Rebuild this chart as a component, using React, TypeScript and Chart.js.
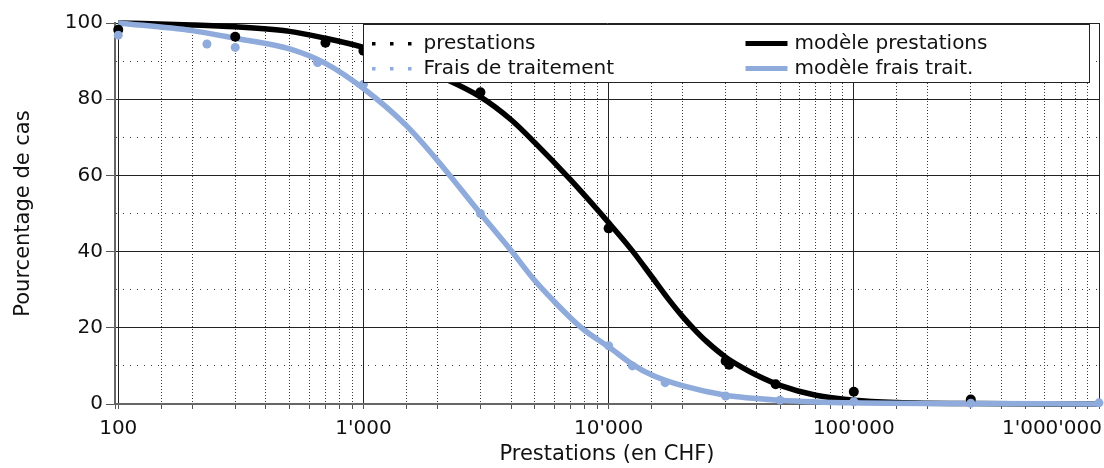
import React, { useEffect, useRef } from "react";
import { Chart, registerables } from "chart.js";

Chart.register(...registerables);

// ---- data ----
const PREST_X = [100, 300, 700, 1000, 3000, 10000, 30000, 31000, 48000, 100000, 300000];
const PREST_Y = [98.2, 96.4, 94.8, 92.7, 81.8, 46.1, 11.3, 10.3, 5.2, 3.2, 1.2];

const FRAIS_X = [100, 230, 300, 650, 1000, 3000, 10000, 12500, 17000, 30000, 50000, 100000, 300000, 1000000];
const FRAIS_Y = [96.8, 94.5, 93.6, 89.6, 83.9, 50.0, 15.3, 10.0, 5.6, 2.1, 1.0, 0.6, 0.2, 0.3];

const MODEL_PREST_X = [100, 200, 300, 500, 700, 1000, 1500, 2000, 3000, 4000, 5000, 7000, 10000, 12500, 15000, 17500, 20000, 22500, 25000, 30000, 35000, 40000, 50000, 70000, 100000, 150000, 300000, 1000000];
const MODEL_PREST_Y = [100, 99.5, 99.0, 97.8, 96.0, 93.6, 89.8, 86.3, 80.6, 74.6, 68.6, 58.8, 47.6, 40.2, 33.4, 27.6, 23.0, 19.4, 16.5, 12.3, 9.6, 7.6, 4.9, 2.3, 1.0, 0.4, 0.1, 0.0];

const MODEL_FRAIS_X = [100, 200, 300, 500, 700, 1000, 1500, 2000, 3000, 4000, 5000, 6000, 7000, 8000, 10000, 12500, 15000, 20000, 30000, 50000, 100000, 300000, 1000000];
const MODEL_FRAIS_Y = [100, 98.0, 96.0, 93.2, 89.4, 82.8, 73.0, 64.0, 50.0, 40.3, 32.4, 26.9, 22.6, 19.3, 15.0, 10.4, 7.6, 4.8, 2.3, 1.0, 0.3, 0.1, 0.0];

const X_TICK_VALUES = [100, 1000, 10000, 100000, 1000000];
const X_TICK_LABELS = ["100", "1'000", "10'000", "100'000", "1'000'000"];
const Y_TICK_LABELS = ["0", "20", "40", "60", "80", "100"];

const LEGEND_LABELS = ["prestations", "Frais de traitement", "modèle prestations", "modèle frais trait."];
const X_TITLE = "Prestations (en CHF)";
const Y_TITLE = "Pourcentage de cas";

// ---- styles ----
const BLACK = "#000000";
const BLUE = "rgb(142,171,219)";
const FONT = "'DejaVu Sans', Verdana, sans-serif";
const TEXT = "#111111";

const toPts = (xs: number[], ys: number[]) => xs.map((x, i) => ({ x, y: ys[i] }));

export default function App() {
  const ref = useRef<HTMLCanvasElement>(null);

  useEffect(() => {
    const canvas = ref.current;
    if (!canvas) return;

    const isMajorX = (v: number) => {
      const l = Math.log10(v);
      return Math.abs(l - Math.round(l)) < 1e-6;
    };
    const isMajorY = (v: number) => Math.abs(v % 20) < 1e-6;

    const xLabelsPlugin = {
      id: "xLabels",
      afterDraw(chart: any) {
        const { ctx } = chart;
        const xs = chart.scales.x;
        ctx.save();
        ctx.font = `20px ${FONT}`;
        ctx.fillStyle = TEXT;
        ctx.textBaseline = "alphabetic";
        ctx.textAlign = "left";
        X_TICK_VALUES.forEach((v, i) => {
          const label = X_TICK_LABELS[i];
          const px = xs.getPixelForValue(v);
          const w = ctx.measureText(label).width;
          let x = px - w / 2;
          x = Math.min(x, chart.width - 2 - w);
          ctx.fillText(label, x, xs.top + 30);
        });
        ctx.restore();
      },
    };

    const legendPlugin = {
      id: "customLegend",
      afterDatasetsDraw(chart: any) {
        const { ctx, chartArea: a } = chart;
        const bx = a.left + 248.5;
        const by = a.top + 1.5;
        const bw = 726;
        const bh = 58;
        ctx.save();
        ctx.fillStyle = "#ffffff";
        ctx.fillRect(bx, by, bw, bh);
        ctx.strokeStyle = "#222";
        ctx.lineWidth = 1;
        ctx.strokeRect(bx, by, bw, bh);

        const row1 = by + 19;
        const row2 = by + 44;
        const dot = (cx: number, cy: number, col: string) => {
          ctx.fillStyle = col;
          ctx.fillRect(cx - 1.5, cy - 1.5, 3.5, 3.5);
        };
        [10, 28, 46].forEach((dx) => {
          dot(bx + dx, row1, BLACK);
          dot(bx + dx, row2, BLUE);
        });
        ctx.lineWidth = 5;
        ctx.strokeStyle = BLACK;
        ctx.beginPath();
        ctx.moveTo(bx + 382, row1);
        ctx.lineTo(bx + 424, row1);
        ctx.stroke();
        ctx.strokeStyle = BLUE;
        ctx.beginPath();
        ctx.moveTo(bx + 382, row2);
        ctx.lineTo(bx + 424, row2);
        ctx.stroke();

        ctx.font = `20px ${FONT}`;
        ctx.fillStyle = TEXT;
        ctx.textBaseline = "middle";
        ctx.textAlign = "left";
        ctx.fillText(LEGEND_LABELS[0], bx + 60, row1);
        ctx.fillText(LEGEND_LABELS[1], bx + 60, row2);
        ctx.fillText(LEGEND_LABELS[2], bx + 431, row1);
        ctx.fillText(LEGEND_LABELS[3], bx + 431, row2);
        ctx.restore();
      },
    };

    const chart = new Chart(canvas, {
      type: "scatter",
      data: {
        datasets: [
          {
            label: LEGEND_LABELS[1],
            data: toPts(FRAIS_X, FRAIS_Y),
            showLine: false,
            pointRadius: 4.5,
            pointBorderWidth: 0,
            backgroundColor: BLUE,
            borderColor: BLUE,
            clip: 8,
          } as any,
          {
            label: LEGEND_LABELS[0],
            data: toPts(PREST_X, PREST_Y),
            showLine: false,
            pointRadius: 5,
            pointBorderWidth: 0,
            backgroundColor: BLACK,
            borderColor: BLACK,
            clip: 8,
          } as any,
          {
            label: LEGEND_LABELS[3],
            data: toPts(MODEL_FRAIS_X, MODEL_FRAIS_Y),
            showLine: true,
            pointRadius: 0,
            borderColor: BLUE,
            backgroundColor: BLUE,
            borderWidth: 5.5,
            cubicInterpolationMode: "monotone",
            clip: 4,
          } as any,
          {
            label: LEGEND_LABELS[2],
            data: toPts(MODEL_PREST_X, MODEL_PREST_Y),
            showLine: true,
            pointRadius: 0,
            borderColor: BLACK,
            backgroundColor: BLACK,
            borderWidth: 5.5,
            cubicInterpolationMode: "monotone",
            clip: 4,
          } as any,
        ],
      },
      options: {
        animation: false,
        responsive: false,
        maintainAspectRatio: false,
        layout: { padding: { left: 0, right: 3, top: 23, bottom: 0 } },
        plugins: {
          legend: { display: false },
          tooltip: { enabled: false },
          title: { display: false },
        },
        scales: {
          x: {
            type: "logarithmic",
            min: 97,
            max: 1000000,
            ticks: { display: false, autoSkip: false },
            grid: {
              color: (c: any) => (c.tick && isMajorX(c.tick.value) ? "#222" : "#3a3a3a"),
              lineWidth: 1,
              tickLength: 5,
              tickColor: "#555",
            },
            border: {
              display: true,
              color: "#666",
              width: 2,
              dash: (c: any) => (c.tick && !isMajorX(c.tick.value) ? [1, 2] : []),
            },
            title: {
              display: true,
              text: X_TITLE,
              color: TEXT,
              font: { size: 21, family: FONT },
              padding: { top: 0, bottom: 1 },
            },
            afterFit: (s: any) => {
              s.height = 64;
              s.paddingLeft = 0;
              s.paddingRight = 0;
            },
          } as any,
          y: {
            type: "linear",
            min: 0,
            max: 100,
            ticks: {
              stepSize: 10,
              autoSkip: false,
              padding: 3,
              color: TEXT,
              font: { size: 20, family: FONT },
              callback: (v: any) => (isMajorY(Number(v)) ? Y_TICK_LABELS[Math.round(Number(v) / 20)] : ""),
            },
            grid: {
              color: (c: any) => (c.tick && isMajorY(c.tick.value) ? "#222" : "#3a3a3a"),
              lineWidth: 1,
              tickLength: 9,
              tickColor: (c: any) => (c.tick && isMajorY(c.tick.value) ? "#555" : "rgba(0,0,0,0)"),
            },
            border: {
              display: true,
              color: "#666",
              width: 2,
              dash: (c: any) => (c.tick && !isMajorY(c.tick.value) ? [1, 6] : []),
            },
            title: {
              display: true,
              text: Y_TITLE,
              color: TEXT,
              font: { size: 21, family: FONT },
              padding: { top: 11, bottom: 0 },
            },
            afterFit: (s: any) => {
              s.width = 115;
            },
          } as any,
        },
      },
      plugins: [legendPlugin, xLabelsPlugin],
    });

    return () => chart.destroy();
  }, []);

  return (
    <div style={{ position: "fixed", left: 0, top: 0, width: 1104, height: 468, background: "#fff" }}>
      <canvas ref={ref} width={1104} height={468} style={{ width: 1104, height: 468, display: "block" }} />
    </div>
  );
}
